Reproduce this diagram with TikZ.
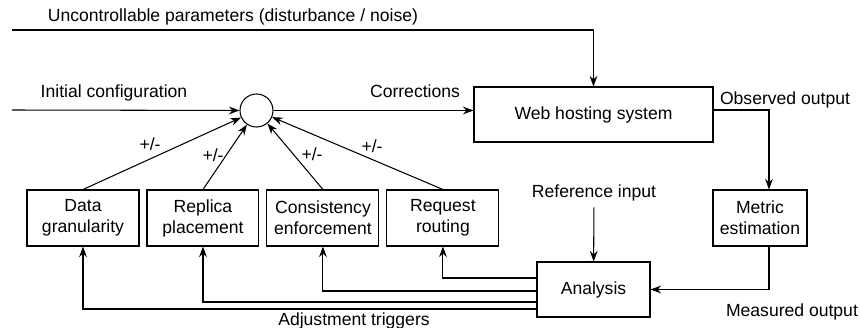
\documentclass[tikz,border=0pt]{standalone}
\usepackage{fontspec}
\setmainfont{Liberation Sans}
\usetikzlibrary{arrows.meta}

\begin{document}
\begin{tikzpicture}[
                    x=0.02cm, y=-0.02cm,
                    node distance=2.4cm,
                    box/.style={
                        draw,
                        line width=0.6pt,
                        align=center,
                        minimum width=2.24cm,
                        minimum height=1.12cm,
                        inner sep=2pt
                    },
                    sum/.style={circle, draw, line width=0.6pt, minimum size=0.66cm, inner sep=0pt},
                    lbl/.style={anchor=base, inner sep=0pt},
                    arr/.style={-{Stealth[length=6pt,width=4.4pt]}, line width=0.6pt}
                ]
                    \useasboundingbox (0,0) rectangle (860,328);

                    \node[sum] (sum) at (256.5,110.5) {};
                    \node[box, minimum width=4.78cm, minimum height=1.1cm] (web) at (593.5,114.5) {Web hosting system};
                    \node[box, minimum width=1.88cm] (metric) at (760,218) {Metric\\estimation};
                    \node[box, minimum width=2.26cm, minimum height=1.1cm] (analysis) at (593.5,289.5) {Analysis};
                    \node[box] (gran) at (83,218) {Data\\granularity};
                    \node[box] (repl) [right of=gran] {Replica\\placement};
                    \node[box] (consist) [right of=repl] {Consistency\\enforcement};
                    \node[box] (routing) [right of=consist] {Request\\routing};

                    % free ends
                    \coordinate (dist) at (12,30);
                    \coordinate (init) at (12,110);
                    \coordinate (obs) at (769,110);

                    % Labels
                    \node[lbl] (distlbl) at (233,22) {Uncontrollable parameters (disturbance / noise)};
                    \node[lbl] (initlbl) at (114,97) {Initial configuration};
                    \node[lbl] (corrlbl) at (415,97) {Corrections};
                    \node[lbl] (obslbl) at (785,104) {Observed output};
                    \node (refin) at (594,193) {Reference input};
                    \node[lbl] (measlbl) at (792,316) {Measured output};
                    \node[lbl] (adjlbl) at (354,325) {Adjustment triggers};
                    \node[lbl] (pm1) at (150,150) {+/-};
                    \node[lbl] (pm2) at (213,161) {+/-};
                    \node[lbl] (pm3) at (312,160) {+/-};
                    \node[lbl] (pm4) at (372,153) {+/-};

                    % Edges
                    \draw[arr] (dist) -| (web.north);
                    \draw[arr] (init) -- (sum);
                    \draw[arr] (sum.east) -- (web.west |- sum.east);
                    \draw[arr] (web.east |- obs) -| (metric.north -| obs);
                    \draw[arr] (metric.south -| obs) |- (analysis.east);
                    \draw[arr] (refin) -- (analysis);
                    \foreach \b in {gran, repl, consist, routing}
                        \draw[arr] (\b.north) -- (sum);
                    \foreach \b/\s in {routing/0.23, consist/-0.03, repl/-0.25, gran/-0.39}
                        \draw[arr] ([yshift=\s cm]analysis.west) -| (\b.south);
                \end{tikzpicture}
\end{document}
